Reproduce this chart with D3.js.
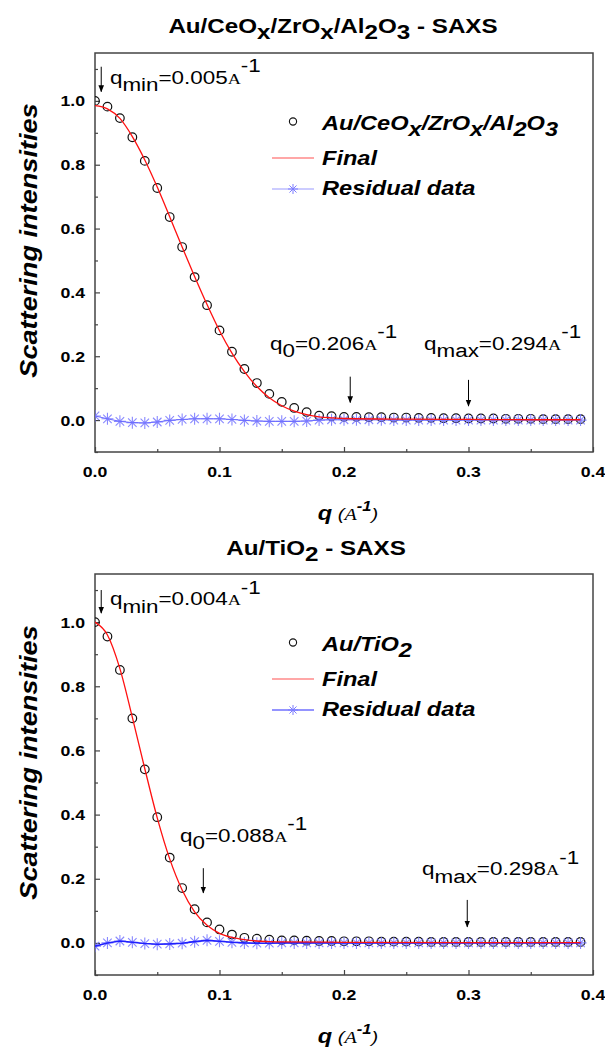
<!DOCTYPE html>
<meta charset="utf-8">
<style>
body { margin: 0; background: #fff; }
svg { display: block; }
.frame { fill: none; stroke: #444; stroke-width: 1.5px; }
.tick line { stroke: #444; stroke-width: 1.2px; }
</style>
<svg width="605" height="1050"></svg>
<script src="https://d3js.org/d3.v7.min.js"></script>
<script>

// ---- data ----

var qGrid = [0.00, 0.01, 0.02, 0.03, 0.04, 0.05, 0.06, 0.07, 0.08, 0.09,
	0.10, 0.11, 0.12, 0.13, 0.14, 0.15, 0.16, 0.17, 0.18, 0.19,
	0.20, 0.21, 0.22, 0.23, 0.24, 0.25, 0.26, 0.27, 0.28, 0.29,
	0.30, 0.31, 0.32, 0.33, 0.34, 0.35, 0.36, 0.37, 0.38, 0.39]

// Au/CeOx/ZrOx/Al2O3
var ceoxData = [1.000, 0.982, 0.946, 0.886, 0.812, 0.727, 0.636, 0.542, 0.448, 0.360,
	0.281, 0.214, 0.160, 0.116, 0.082, 0.057, 0.038, 0.025, 0.014, 0.012,
	0.010, 0.010, 0.009, 0.009, 0.008, 0.008, 0.007, 0.007, 0.006, 0.006,
	0.005, 0.005, 0.005, 0.004, 0.004, 0.004, 0.003, 0.003, 0.003, 0.003]
var ceoxResid = [0.013, 0.004, -0.004, -0.008, -0.009, -0.006, -0.001, 0.002, 0.004, 0.004,
	0.004, 0.002, -0.001, -0.003, -0.004, -0.004, -0.004, -0.003, 0.000, 0.001,
	0.001, 0.001, 0.001, 0.001, 0.000, 0.000, 0.000, 0.000, 0.000, 0.000,
	0.000, 0.000, 0.000, 0.000, 0.000, 0.000, 0.000, 0.000, 0.000, 0.000]
var ceoxFitQ = [0.00, 0.01, 0.02, 0.03, 0.04, 0.05, 0.06, 0.07, 0.08, 0.09, 0.10,
	0.11, 0.12, 0.13, 0.14, 0.15, 0.16, 0.17, 0.18, 0.19, 0.20, 0.25, 0.30, 0.35, 0.39]
var ceoxFit = [0.985, 0.975, 0.945, 0.888, 0.815, 0.730, 0.637, 0.542, 0.450, 0.362, 0.280,
	0.210, 0.152, 0.105, 0.070, 0.045, 0.028, 0.017, 0.010, 0.007, 0.005, 0.003, 0.002, 0.001, 0.001]

// Au/TiO2
var tioData = [1.000, 0.955, 0.851, 0.700, 0.541, 0.392, 0.266, 0.171, 0.105, 0.064,
	0.042, 0.026, 0.016, 0.013, 0.010, 0.008, 0.008, 0.007, 0.006, 0.006,
	0.005, 0.005, 0.005, 0.004, 0.004, 0.004, 0.004, 0.003, 0.003, 0.003,
	0.003, 0.003, 0.003, 0.003, 0.003, 0.003, 0.003, 0.003, 0.003, 0.003]
var tioResid = [-0.010, 0.000, 0.006, 0.002, -0.002, -0.004, -0.003, -0.001, 0.004, 0.008,
	0.005, 0.002, 0.000, -0.001, -0.001, 0.000, 0.000, 0.000, 0.000, 0.000,
	0.000, 0.000, 0.000, 0.000, 0.000, 0.000, 0.000, 0.000, 0.000, 0.000,
	0.000, 0.000, 0.000, 0.000, 0.000, 0.000, 0.000, 0.000, 0.000, 0.000]
var tioFitQ = [0.00, 0.01, 0.02, 0.03, 0.04, 0.05, 0.06, 0.07, 0.08, 0.09, 0.10,
	0.11, 0.12, 0.13, 0.14, 0.15, 0.20, 0.30, 0.39]
var tioFit = [1.000, 0.960, 0.855, 0.703, 0.543, 0.390, 0.262, 0.165, 0.097, 0.055, 0.030,
	0.017, 0.010, 0.006, 0.004, 0.003, 0.002, 0.001, 0.001]

var xTicks = [0, 0.1, 0.2, 0.3, 0.4]
var xMinor = [0.05, 0.15, 0.25, 0.35]
var yTicks = [0, 0.2, 0.4, 0.6, 0.8, 1.0]
var yMinor = [-0.1, 0.1, 0.3, 0.5, 0.7, 0.9, 1.1]

// ---- layout ----

var svg = d3.select('svg')
var SX = 1.18            // the reference text is stretched sideways
var SANS = "'Liberation Sans', Arial, sans-serif"
var SERIF = "'Liberation Serif', 'Times New Roman', serif"
var left = 95, right = 593

var panels = [
	{ top: 53, bottom: 452, data: ceoxData, resid: ceoxResid, fitQ: ceoxFitQ, fit: ceoxFit,
	  residLine: '#6a6aff', residWidth: 1, legendLine: '#9a9aff',
	  title: [{t: 'Au/CeO'}, {t: 'x', k: 'sub'}, {t: '/ZrO'}, {t: 'x', k: 'sub'}, {t: '/Al'}, {t: '2', k: 'sub'}, {t: 'O'}, {t: '3', k: 'sub'}, {t: ' - SAXS'}],
	  titleX: 333, titleY: 33,
	  legend: [{t: 'Au/CeO'}, {t: 'x', k: 'sub'}, {t: '/ZrO'}, {t: 'x', k: 'sub'}, {t: '/Al'}, {t: '2', k: 'sub'}, {t: 'O'}, {t: '3', k: 'sub'}],
	  notes: [
		{ label: 'min', value: '=0.005', tq: 0.012, tv: 1.054, aq: 0.005, a0: 1.107, a1: 1.029 },
		{ label: '0', value: '=0.206', tq: 0.1406, tv: 0.22, aq: 0.205, a0: 0.136, a1: 0.055 },
		{ label: 'max', value: '=0.294', tq: 0.2643, tv: 0.22, aq: 0.300, a0: 0.126, a1: 0.044 }
	  ] },
	{ top: 574, bottom: 975, data: tioData, resid: tioResid, fitQ: tioFitQ, fit: tioFit,
	  residLine: '#2020ff', residWidth: 1.6, legendLine: '#2a2aff',
	  title: [{t: 'Au/TiO'}, {t: '2', k: 'sub'}, {t: ' - SAXS'}],
	  titleX: 316, titleY: 555,
	  legend: [{t: 'Au/TiO'}, {t: '2', k: 'sub'}],
	  notes: [
		{ label: 'min', value: '=0.004', tq: 0.012, tv: 1.053, aq: 0.005, a0: 1.100, a1: 1.028 },
		{ label: '0', value: '=0.088', tq: 0.0683, tv: 0.315, aq: 0.087, a0: 0.233, a1: 0.156 },
		{ label: 'max', value: '=0.298', tq: 0.2627, tv: 0.212, aq: 0.299, a0: 0.134, a1: 0.050 }
	  ] }
]

// text with sub/superscripts, stretched horizontally like the reference
function rich(parent, x, y, parts, base) {
	var tf = 'translate(' + x + ',' + y + ')' + (base.rotate ? ' rotate(' + base.rotate + ')' : '') + ' scale(' + SX + ',1)'
	var text = parent.append('text')
		.attr('transform', tf)
		.attr('text-anchor', base.anchor || 'start')
		.style('font-family', base.family || SANS)
		.style('font-size', base.size + 'px')
		.style('font-weight', base.weight || 'normal')
		.style('font-style', base.style || 'normal')
		.attr('fill', '#000')
	var shift = 0
	parts.forEach(function (p) {
		var target = p.k === 'sub' ? base.size * (base.subShift || 0.3) : p.k === 'sup' ? -base.size * (base.supShift || 0.55) : 0
		var ts = text.append('tspan').attr('dy', target - shift).text(p.t)
		shift = target
		if (p.f) ts.style('font-family', p.f)
		if (p.s) ts.style('font-size', p.s + 'px')
		if (p.w) ts.style('font-weight', p.w)
		if (p.i) ts.style('font-style', p.i)
	})
	return text
}

function starPath(r) {
	var a = r * 0.7071
	return 'M' + (-r) + ',0H' + r + 'M0,' + (-r) + 'V' + r +
		'M' + (-a) + ',' + (-a) + 'L' + a + ',' + a + 'M' + (-a) + ',' + a + 'L' + a + ',' + (-a)
}

var defs = svg.append('defs')
svg.append('defs').append('marker')
	.attr('id', 'head').attr('viewBox', '0 0 10 10').attr('refX', 9).attr('refY', 5)
	.attr('markerWidth', 7).attr('markerHeight', 7).attr('markerUnits', 'userSpaceOnUse')
	.attr('orient', 'auto')
	.append('path').attr('d', 'M0,1L10,5L0,9Z').attr('fill', '#000')

panels.forEach(function (p, i) {
	var x = d3.scaleLinear().domain([0, 0.4]).range([left, right])
	var y = d3.scaleLinear().domain([-0.1, 1.15]).range([p.bottom, p.top])
	var g = svg.append('g')

	defs.append('clipPath').attr('id', 'clip' + i)
		.append('rect').attr('x', left).attr('y', p.top).attr('width', right - left).attr('height', p.bottom - p.top)

	// axes, ticks pointing inward
	g.append('g').attr('class', 'tick')
		.attr('transform', 'translate(0,' + p.bottom + ')')
		.call(d3.axisBottom(x).tickValues(xTicks).tickSize(-5).tickFormat(''))
		.call(function (a) { a.select('.domain').remove() })
	g.append('g').attr('class', 'tick')
		.attr('transform', 'translate(0,' + p.bottom + ')')
		.call(d3.axisBottom(x).tickValues(xMinor).tickSize(-3).tickFormat(''))
		.call(function (a) { a.select('.domain').remove() })
	g.append('g').attr('class', 'tick')
		.attr('transform', 'translate(' + left + ',0)')
		.call(d3.axisLeft(y).tickValues(yTicks).tickSize(-5).tickFormat(''))
		.call(function (a) { a.select('.domain').remove() })
	g.append('g').attr('class', 'tick')
		.attr('transform', 'translate(' + left + ',0)')
		.call(d3.axisLeft(y).tickValues(yMinor).tickSize(-3).tickFormat(''))
		.call(function (a) { a.select('.domain').remove() })
	g.selectAll('.tick line').attr('stroke', '#444')

	xTicks.forEach(function (t) {
		rich(g, x(t), p.bottom + 25, [{t: d3.format('.1f')(t)}], {size: 15, weight: 'bold', anchor: 'middle'})
	})
	yTicks.forEach(function (t) {
		rich(g, 85, y(t) + 5.5, [{t: d3.format('.1f')(t)}], {size: 15, weight: 'bold', anchor: 'end'})
	})

	g.append('rect').attr('class', 'frame')
		.attr('x', left).attr('y', p.top).attr('width', right - left).attr('height', p.bottom - p.top)

	// marks
	var plot = g.append('g').attr('clip-path', 'url(#clip' + i + ')')
	plot.selectAll('circle.pt').data(p.data).enter().append('circle')
		.attr('class', 'pt')
		.attr('cx', function (d, j) { return x(qGrid[j]) })
		.attr('cy', function (d) { return y(d) })
		.attr('r', 4.3)
		.attr('fill', 'none').attr('stroke', '#111').attr('stroke-width', 1.2)

	plot.selectAll('path.star').data(p.resid).enter().append('path')
		.attr('class', 'star')
		.attr('transform', function (d, j) { return 'translate(' + x(qGrid[j]) + ',' + y(d) + ')' })
		.attr('d', starPath(6))
		.attr('stroke', '#7474ff').attr('stroke-opacity', 0.85).attr('stroke-width', 1.1).attr('fill', 'none')

	plot.append('path').datum(p.resid)
		.attr('d', d3.line().x(function (d, j) { return x(qGrid[j]) }).y(function (d) { return y(d) }))
		.attr('fill', 'none').attr('stroke', p.residLine).attr('stroke-width', p.residWidth)

	plot.append('path').datum(p.fit)
		.attr('d', d3.line().curve(d3.curveMonotoneX)
			.x(function (d, j) { return x(p.fitQ[j]) }).y(function (d) { return y(d) }))
		.attr('fill', 'none').attr('stroke', '#ff1010').attr('stroke-width', 1.3)

	// legend
	var ly = p.top + 69
	g.append('circle').attr('cx', 293).attr('cy', ly - 0.5).attr('r', 3.6)
		.attr('fill', 'none').attr('stroke', '#111').attr('stroke-width', 1.1)
	rich(g, 322, ly + 8, p.legend, {size: 20, weight: 'bold', style: 'italic', subShift: 0.3})
	g.append('line').attr('x1', 272).attr('x2', 314).attr('y1', ly + 36).attr('y2', ly + 36)
		.attr('stroke', '#ff5050').attr('stroke-width', 1.2)
	rich(g, 322, ly + 43, [{t: 'Final'}], {size: 20, weight: 'bold', style: 'italic'})
	g.append('line').attr('x1', 272).attr('x2', 314).attr('y1', ly + 67).attr('y2', ly + 67)
		.attr('stroke', p.legendLine).attr('stroke-width', 1.2)
	g.append('path').attr('transform', 'translate(293,' + (ly + 67) + ')').attr('d', starPath(5))
		.attr('stroke', '#7d7dff').attr('stroke-width', 1).attr('fill', 'none')
	rich(g, 322, ly + 73, [{t: 'Residual data'}], {size: 20, weight: 'bold', style: 'italic'})

	// q annotations
	p.notes.forEach(function (n) {
		rich(g, x(n.tq), y(n.tv), [{t: 'q'}, {t: n.label, k: 'sub'}, {t: n.value}, {t: 'A', f: SERIF, s: 15.5}, {t: '-1', k: 'sup'}],
			{size: 19, subShift: 0.4, supShift: 0.6})
		g.append('line')
			.attr('x1', x(n.aq)).attr('x2', x(n.aq)).attr('y1', y(n.a0)).attr('y2', y(n.a1))
			.attr('stroke', '#000').attr('stroke-width', 1).attr('marker-end', 'url(#head)')
	})

	// titles
	rich(g, p.titleX, p.titleY, p.title, {size: 20.5, weight: 'bold', anchor: 'middle', subShift: 0.28})
	rich(g, 37, (p.top + p.bottom) / 2 - 12, [{t: 'Scattering intensities'}],
		{size: 23, weight: 'bold', style: 'italic', anchor: 'middle', rotate: -90})
	rich(g, 348, p.bottom + 68, [{t: 'q', w: 'bold'}, {t: ' (', s: 17}, {t: 'A', f: SERIF, s: 17}, {t: '-1', k: 'sup', w: 'bold', s: 14}, {t: ')', s: 17}],
		{size: 20, style: 'italic', anchor: 'middle', supShift: 0.45})
})

</script>
